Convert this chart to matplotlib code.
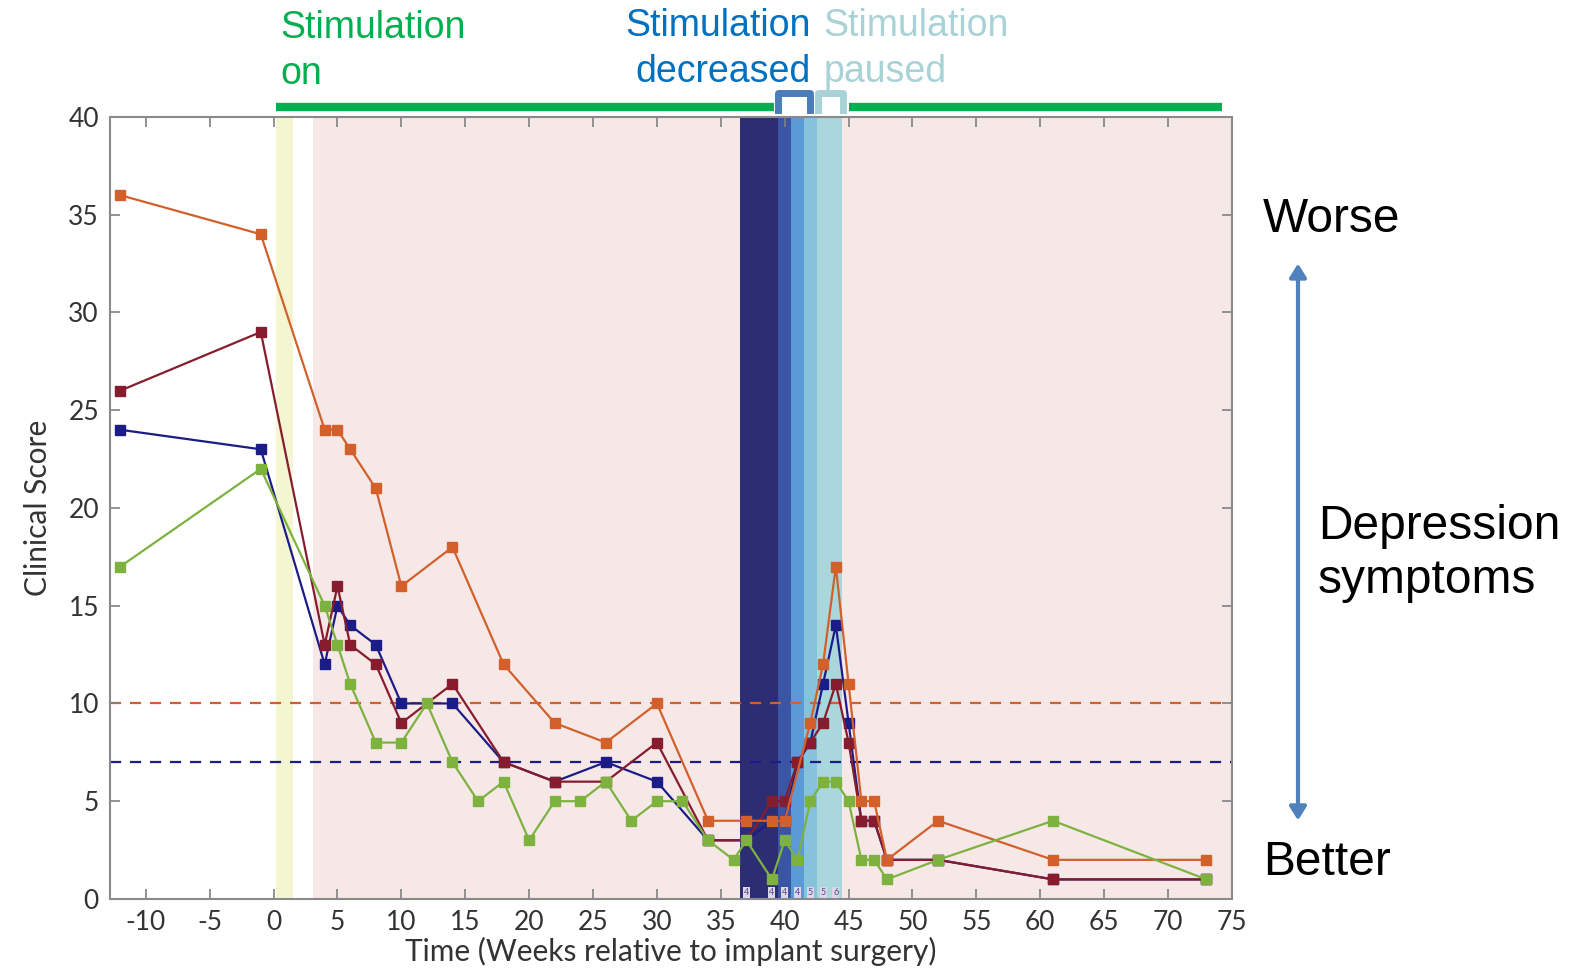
import matplotlib
matplotlib.use("Agg")
import matplotlib.pyplot as plt
from matplotlib.patches import FancyArrowPatch
from matplotlib.transforms import blended_transform_factory

# visits (weeks relative to implant surgery) and clinical scores per scale
weeks_orange = [-12, -1, 4, 5, 6, 8, 10, 14, 18, 22, 26, 30, 34, 37, 39, 40, 42, 43, 44, 45, 46, 47, 48, 52, 61, 73]
score_orange = [36, 34, 24, 24, 23, 21, 16, 18, 12, 9, 8, 10, 4, 4, 4, 4, 9, 12, 17, 11, 5, 5, 2, 4, 2, 2]

weeks_navy = [-12, -1, 4, 5, 6, 8, 10, 14, 18, 22, 26, 30, 34, 37, 39, 40, 41, 42, 43, 44, 45, 46, 47, 48, 52, 61, 73]
score_navy = [24, 23, 12, 15, 14, 13, 10, 10, 7, 6, 7, 6, 3, 3, 4, 4, 7, 8, 11, 14, 9, 4, 4, 2, 2, 1, 1]

weeks_maroon = [-12, -1, 4, 5, 6, 8, 10, 14, 18, 22, 26, 30, 34, 37, 39, 40, 41, 42, 43, 44, 45, 46, 47, 48, 52, 61, 73]
score_maroon = [26, 29, 13, 16, 13, 12, 9, 11, 7, 6, 6, 8, 3, 3, 5, 5, 7, 8, 9, 11, 8, 4, 4, 2, 2, 1, 1]

weeks_green = [-12, -1, 4, 5, 6, 8, 10, 12, 14, 16, 18, 20, 22, 24, 26, 28, 30, 32, 34, 36, 37,
               39, 40, 41, 42, 43, 44, 45, 46, 47, 48, 52, 61, 73]
score_green = [17, 22, 15, 13, 11, 8, 8, 10, 7, 5, 6, 3, 5, 5, 6, 4, 5, 5, 3, 2, 3,
               1, 3, 2, 5, 6, 6, 5, 2, 2, 1, 2, 4, 1]

# remission thresholds
thresh_orange = 10
thresh_navy = 7

# stimulation bands (start, end week) and their colours
band_edges = [(36.5, 39.5), (39.5, 40.5), (40.5, 41.5), (41.5, 42.5), (42.5, 44.5)]
band_colors = ["#2c2d72", "#3b55a5", "#5b9ad6", "#86c2dc", "#a9d7db"]
band_label_weeks = [37, 39, 40, 41, 42, 43, 44]
band_label_text = ["4", "4", "4", "4", "5", "5", "6"]

c_orange = "#d3602b"
c_maroon = "#861c2e"
c_navy = "#1c1c88"
c_green = "#7db23e"

plt.rcParams["font.family"] = ["Lato", "DejaVu Sans"]
plt.rcParams["axes.unicode_minus"] = False

fig = plt.figure(figsize=(15.76, 9.73), dpi=100)
ax = fig.add_axes([0.0698, 0.0761, 0.7119, 0.8037])
ax.set_xlim(-12.8, 75)
ax.set_ylim(0, 40)

# background shading
ax.axvspan(0.2, 1.5, color="#f3f6d0", lw=0, zorder=0)
ax.axvspan(3.1, 75, color="#f7e8e8", lw=0, zorder=0)
for (a, b), col in zip(band_edges, band_colors):
    ax.axvspan(a, b, color=col, lw=0, zorder=0.5)

ax.axhline(thresh_orange, color=c_orange, ls=(0, (5, 4)), lw=1.6, zorder=1)
ax.axhline(thresh_navy, color=c_navy, ls=(0, (5, 4)), lw=1.6, zorder=1)

kw = dict(marker="s", markersize=7, lw=1.6, zorder=3)
ax.plot(weeks_navy, score_navy, color=c_navy, **kw)
ax.plot(weeks_maroon, score_maroon, color=c_maroon, **kw)
ax.plot(weeks_orange, score_orange, color=c_orange, **kw)
ax.plot(weeks_green, score_green, color=c_green, **kw)

# small level labels at the foot of the bands
for w, t in zip(band_label_weeks, band_label_text):
    ax.text(w, 0.35, t, fontsize=6.5, color="#5a4a8a", ha="center", va="center", zorder=4,
            bbox=dict(boxstyle="square,pad=0.1", fc="#dcd6ea", ec="none"))

ax.set_xticks(range(-10, 76, 5))
ax.set_yticks(range(0, 41, 5))
ax.tick_params(direction="in", length=7, width=1.2, top=True, right=True,
               colors="#808080", labelcolor="#333333", labelsize=19)
ax.tick_params(axis="x", pad=8)
ax.tick_params(axis="y", pad=8)
for s in ax.spines.values():
    s.set_color("#8a8a8a")
    s.set_linewidth(1.5)
ax.set_xlabel("Time (Weeks relative to implant surgery)", fontsize=21.5, color="#333333", labelpad=1)
ax.set_ylabel("Clinical Score", fontsize=21.5, color="#333333", labelpad=12)

# stimulation state bar above the axes
tr = blended_transform_factory(ax.transData, ax.transAxes)
bar_y = 1.0128
top_y = 1.03
ax.plot([0.2, 39.2], [bar_y, bar_y], color="#00b050", lw=6, transform=tr, clip_on=False,
        solid_capstyle="butt")
ax.plot([45.0, 74.2], [bar_y, bar_y], color="#00b050", lw=6, transform=tr, clip_on=False,
        solid_capstyle="butt")
ax.plot([39.5, 39.5, 42.0, 42.0], [bar_y - 0.004, top_y, top_y, bar_y - 0.004], color="#4a7ebb",
        lw=5, transform=tr, clip_on=False, solid_joinstyle="round")
ax.plot([42.6, 42.6, 44.6, 44.6], [bar_y - 0.004, top_y, top_y, bar_y - 0.004], color="#a8d2d6",
        lw=5, transform=tr, clip_on=False, solid_joinstyle="round")

sans = ["Liberation Sans", "DejaVu Sans"]
fig.text(0.1777, 0.99, "Stimulation\non", color="#00b050", fontsize=27, family=sans,
         ha="left", va="top", linespacing=1.35)
fig.text(0.5145, 0.992, "Stimulation\ndecreased", color="#0070c0", fontsize=27, family=sans,
         ha="right", va="top", multialignment="right", linespacing=1.35)
fig.text(0.5225, 0.992, "Stimulation\npaused", color="#a8d2d6", fontsize=27, family=sans,
         ha="left", va="top", multialignment="left", linespacing=1.35)

fig.text(0.8014, 0.774, "Worse", fontsize=34.5, family=sans, ha="left", va="center")
fig.text(0.8014, 0.114, "Better", fontsize=34.5, family=sans, ha="left", va="center")
fig.text(0.8363, 0.431, "Depression\nsymptoms", fontsize=34.5, family=sans, ha="left",
         va="center", linespacing=1.25)

arrow = FancyArrowPatch((0.8236, 0.154), (0.8236, 0.732), transform=fig.transFigure,
                        arrowstyle="<|-|>,head_length=8,head_width=5", color="#4f81bd", lw=3)
fig.patches.append(arrow)

fig.savefig("out.png", dpi=100)
